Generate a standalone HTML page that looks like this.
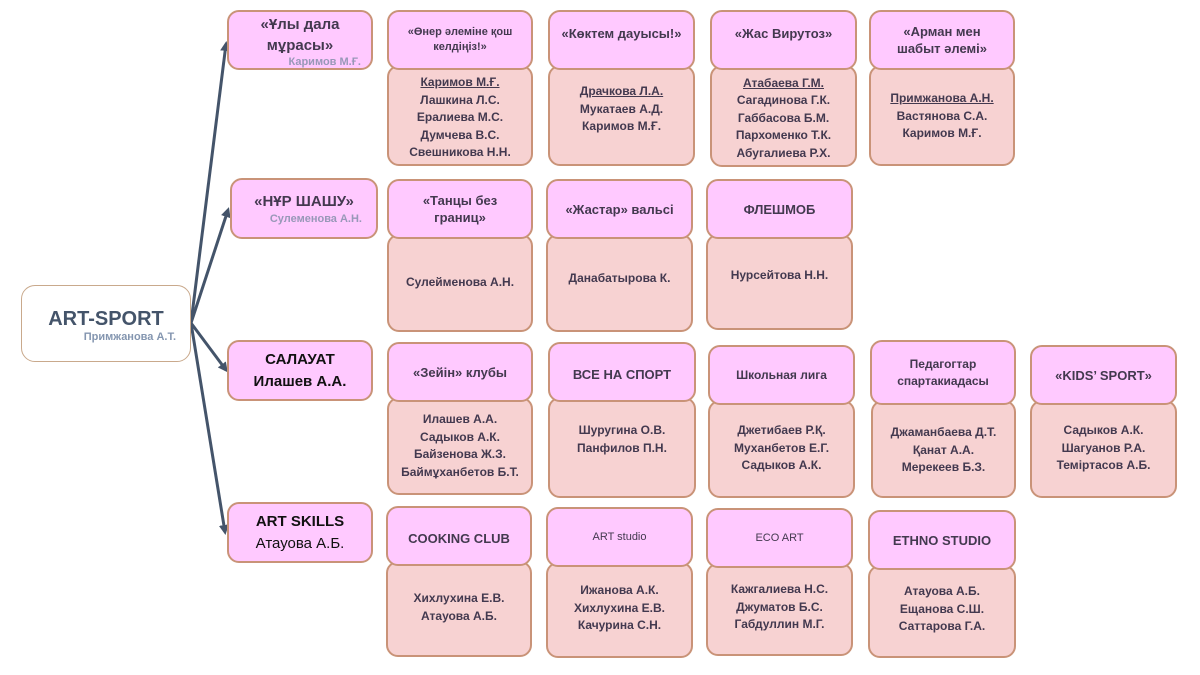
<!DOCTYPE html>
<html><head><meta charset="utf-8"><style>
body{margin:0;width:1200px;height:675px;background:#fff;position:relative;overflow:hidden;font-family:"Liberation Sans","DejaVu Sans",sans-serif;}
.b{position:absolute;box-sizing:border-box;border-radius:12px;display:flex;flex-direction:column;justify-content:center;align-items:center;text-align:center;font-weight:bold;color:#43394f;}
.h{background:#ffc9ff;border:2px solid #c99378;z-index:2;font-size:13px;line-height:17px;}
.d{background:#f7d2d2;border:2px solid #c99378;z-index:1;font-size:12px;line-height:17.5px;}
.l{background:#ffc9ff;border:2px solid #c99378;z-index:2;}
u{text-decoration:underline;}
</style></head><body>
<svg style="position:absolute;left:0;top:0" width="1200" height="675">
<defs><marker id="a" markerWidth="10" markerHeight="10" refX="7" refY="5" orient="auto" markerUnits="userSpaceOnUse"><path d="M0,0 L10,5 L0,10 z" fill="#44546a"/></marker></defs>
<g stroke="#44546a" stroke-width="3" fill="none">
<line x1="191" y1="323" x2="226" y2="44" marker-end="url(#a)"/>
<line x1="191" y1="323" x2="228" y2="210" marker-end="url(#a)"/>
<line x1="191" y1="323" x2="226" y2="370" marker-end="url(#a)"/>
<line x1="191" y1="323" x2="225" y2="532" marker-end="url(#a)"/>
</g></svg>

<div class="b" style="left:21px;top:285px;width:170px;height:77px;border:1.5px solid #c9a98c;background:#fff;border-radius:14px;">
<div style="font-size:20px;color:#44546a;margin-top:4px">ART-SPORT</div>
<div style="font-size:11px;color:#8496b0;align-self:flex-end;margin-right:14px">Примжанова А.Т.</div></div>

<!-- row 1 -->
<div class="b l" style="left:227px;top:10px;width:146px;height:60px;font-size:15px;line-height:21px;justify-content:flex-start;padding-top:2px">«Ұлы дала<br>мұрасы»<div style="font-size:11px;line-height:13px;color:#9898b8;align-self:flex-end;margin-right:10px">Каримов М.Ғ.</div></div>
<div class="b h" style="left:387px;top:10px;width:146px;height:60px;font-size:11px;line-height:15px">«Өнер әлеміне қош<br>келдіңіз!»</div>
<div class="b d" style="left:387px;top:65px;width:146px;height:101px;padding-top:5px"><u>Каримов М.Ғ.</u>Лашкина Л.С.<br>Ералиева М.С.<br>Думчева В.С.<br>Свешникова Н.Н.</div>
<div class="b h" style="left:548px;top:10px;width:147px;height:60px;justify-content:flex-start;padding-top:13px">«Көктем дауысы!»</div>
<div class="b d" style="left:548px;top:65px;width:147px;height:101px;justify-content:flex-start;padding-top:16px"><u>Драчкова Л.А.</u>Мукатаев А.Д.<br>Каримов М.Ғ.</div>
<div class="b h" style="left:710px;top:10px;width:147px;height:60px;justify-content:flex-start;padding-top:13px">«Жас Вирутоз»</div>
<div class="b d" style="left:710px;top:65px;width:147px;height:102px;padding-top:5px"><u>Атабаева Г.М.</u>Сагадинова Г.К.<br>Габбасова Б.М.<br>Пархоменко Т.К.<br>Абугалиева Р.Х.</div>
<div class="b h" style="left:869px;top:10px;width:146px;height:60px">«Арман мен<br>шабыт әлемі»</div>
<div class="b d" style="left:869px;top:65px;width:146px;height:101px;justify-content:flex-start;padding-top:23px"><u>Примжанова А.Н.</u>Вастянова С.А.<br>Каримов М.Ғ.</div>

<!-- row 2 -->
<div class="b l" style="left:230px;top:178px;width:148px;height:61px;font-size:15px;line-height:21px">«НҰР ШАШУ»<div style="font-size:11px;line-height:14px;color:#9898b8;align-self:flex-end;margin-right:14px">Сулеменова А.Н.</div></div>
<div class="b h" style="left:387px;top:179px;width:146px;height:60px">«Танцы без<br>границ»</div>
<div class="b d" style="left:387px;top:234px;width:146px;height:98px">Сулейменова А.Н.</div>
<div class="b h" style="left:546px;top:179px;width:147px;height:60px">«Жастар» вальсі</div>
<div class="b d" style="left:546px;top:234px;width:147px;height:98px;justify-content:flex-start;padding-top:34px">Данабатырова К.</div>
<div class="b h" style="left:706px;top:179px;width:147px;height:60px">ФЛЕШМОБ</div>
<div class="b d" style="left:706px;top:234px;width:147px;height:96px;justify-content:flex-start;padding-top:31px">Нурсейтова Н.Н.</div>

<!-- row 3 -->
<div class="b l" style="left:227px;top:340px;width:146px;height:61px;font-size:15px;line-height:22px;color:#111">САЛАУАТ<br>Илашев А.А.</div>
<div class="b h" style="left:387px;top:342px;width:146px;height:60px">«Зейін» клубы</div>
<div class="b d" style="left:387px;top:397px;width:146px;height:98px"><span>Илашев А.А.<br>Садыков А.К.<br>Байзенова Ж.З.<br>Баймұханбетов Б.Т.</span></div>
<div class="b h" style="left:548px;top:342px;width:148px;height:60px;justify-content:flex-start;padding-top:22px">ВСЕ НА СПОРТ</div>
<div class="b d" style="left:548px;top:397px;width:148px;height:101px;justify-content:flex-start;padding-top:23px">Шуругина О.В.<br>Панфилов П.Н.</div>
<div class="b h" style="left:708px;top:345px;width:147px;height:60px;font-size:12px">Школьная лига</div>
<div class="b d" style="left:708px;top:400px;width:147px;height:98px;justify-content:flex-start;padding-top:20px">Джетибаев Р.Қ.<br>Муханбетов Е.Г.<br>Садыков А.К.</div>
<div class="b h" style="left:870px;top:340px;width:146px;height:65px;font-size:12px">Педагогтар<br>спартакиадасы</div>
<div class="b d" style="left:871px;top:400px;width:145px;height:98px;justify-content:flex-start;padding-top:22px">Джаманбаева Д.Т.<br>Қанат А.А.<br>Мерекеев Б.З.</div>
<div class="b h" style="left:1030px;top:345px;width:147px;height:60px">«KIDS’ SPORT»</div>
<div class="b d" style="left:1030px;top:400px;width:147px;height:98px;justify-content:flex-start;padding-top:20px">Садыков А.К.<br>Шагуанов Р.А.<br>Теміртасов А.Б.</div>

<!-- row 4 -->
<div class="b l" style="left:227px;top:502px;width:146px;height:61px;font-size:15px;line-height:22px;color:#111">ART SKILLS<span style="font-weight:normal">Атауова А.Б.</span></div>
<div class="b h" style="left:386px;top:506px;width:146px;height:60px;justify-content:flex-start;padding-top:22px">COOKING CLUB</div>
<div class="b d" style="left:386px;top:561px;width:146px;height:96px;justify-content:flex-start;padding-top:27px">Хихлухина Е.В.<br>Атауова А.Б.</div>
<div class="b h" style="left:546px;top:507px;width:147px;height:60px;font-size:11px;font-weight:normal">ART studio</div>
<div class="b d" style="left:546px;top:562px;width:147px;height:96px;justify-content:flex-start;padding-top:18px">Ижанова А.К.<br>Хихлухина Е.В.<br>Качурина С.Н.</div>
<div class="b h" style="left:706px;top:508px;width:147px;height:60px;font-size:11px;font-weight:normal">ECO ART</div>
<div class="b d" style="left:706px;top:563px;width:147px;height:93px;justify-content:flex-start;padding-top:16px">Кажгалиева Н.С.<br>Джуматов Б.С.<br>Габдуллин М.Г.</div>
<div class="b h" style="left:868px;top:510px;width:148px;height:60px">ETHNO STUDIO</div>
<div class="b d" style="left:868px;top:565px;width:148px;height:93px;justify-content:flex-start;padding-top:16px">Атауова А.Б.<br>Ещанова С.Ш.<br>Саттарова Г.А.</div>
</body></html>
